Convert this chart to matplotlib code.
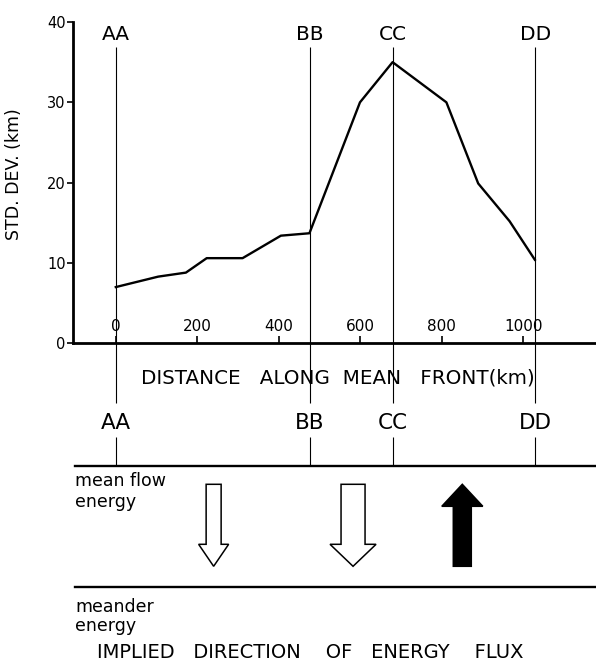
import matplotlib
matplotlib.use("Agg")
import matplotlib.pyplot as plt
from matplotlib.patches import FancyArrow

# ---------------------------------------------------------------------------
# Data
# ---------------------------------------------------------------------------
DIST_KM    = [0, 104, 172, 223, 311, 405, 475, 599, 679, 811, 889, 966, 1028]
STD_DEV_KM = [7.0, 8.3, 8.8, 10.6, 10.6, 13.4, 13.7, 30.0, 35.0, 30.0, 19.9, 15.2, 10.4]

SECTION_NAMES = ["AA", "BB", "CC", "DD"]
SECTION_KM    = [0, 476, 680, 1029]

X_TICKS = [0, 200, 400, 600, 800, 1000]
Y_TICKS = [0, 10, 20, 30, 40]

# energy flux arrows: position along front, +1 = mean flow -> meander
FLUX_KM     = [240, 582, 850]
FLUX_DIR    = [1, 1, -1]
FLUX_FILLED = [False, False, True]

# ---------------------------------------------------------------------------
# Layout (pixels of a 596x661 canvas)
# ---------------------------------------------------------------------------
W, H = 596, 661
AX_L, AX_R, AX_TOP, AX_BOT = 73, 596, 22, 343.3
KM_PX = 0.4076                      # pixels per km
X0_PX = 115.7                       # pixel column of km 0
XLIM = (-105, 1178)

ARROW_SHAFT_PX = [15, 24, 18]
ARROW_HEAD_PX  = [30, 46, 41]
ARROW_TOP, ARROW_BOT, HEAD_LEN = 141, 223, 22


def px_to_km(px):
    return (px - X0_PX) / KM_PX


plt.rcParams["font.family"] = ["DejaVu Sans"]

fig = plt.figure(figsize=(W / 100, H / 100), dpi=100)

# ---------------------------------------------------------------------------
# Upper panel: std. dev. along the front
# ---------------------------------------------------------------------------
ax = fig.add_axes([AX_L / W, 1 - AX_BOT / H, (AX_R - AX_L) / W, (AX_BOT - AX_TOP) / H])
ax.set_xlim(*XLIM)
ax.set_ylim(0, 40)

ax.plot(DIST_KM, STD_DEV_KM, color="black", lw=1.7)
ax.vlines(SECTION_KM, 0, 36.9, color="black", lw=0.8)
for name, km in zip(SECTION_NAMES, SECTION_KM):
    ax.text(km, 37.7, name, ha="center", va="baseline", fontsize=14.5)

for side in ("top", "right"):
    ax.spines[side].set_visible(False)
for side in ("left", "bottom"):
    ax.spines[side].set_linewidth(2.0)

ax.set_xticks(X_TICKS)
ax.set_xticklabels([str(t) for t in X_TICKS])
ax.tick_params(axis="x", direction="in", length=5, width=1.2, pad=-17.3, labelsize=11)
ax.set_yticks(Y_TICKS)
ax.tick_params(axis="y", direction="out", length=4.3, width=1.2, pad=1, labelsize=10.5)
ax.set_ylabel("STD. DEV. (km)", fontsize=12.5)
ax.yaxis.set_label_coords((23.5 - AX_L) / (AX_R - AX_L), (AX_BOT - 174) / (AX_BOT - AX_TOP))

# ---------------------------------------------------------------------------
# Lower panel: schematic of energy flux (y = pixels below the x axis)
# ---------------------------------------------------------------------------
ax2 = fig.add_axes([AX_L / W, 0, (AX_R - AX_L) / W, (H - AX_BOT) / H])
ax2.set_xlim(*XLIM)
ax2.set_ylim(H - AX_BOT, 0)
ax2.axis("off")

ax2.vlines(SECTION_KM, 0, 60, color="black", lw=0.8)
ax2.vlines(SECTION_KM, 94, 123, color="black", lw=0.8)
for name, km in zip(SECTION_NAMES, SECTION_KM):
    ax2.text(km, 86, name, ha="center", va="baseline", fontsize=15.5)

ax2.text(px_to_km(141), 40, "DISTANCE   ALONG  MEAN   FRONT(km)",
         ha="left", va="baseline", fontsize=14.3)

ax2.axhline(123, xmin=0.004, color="black", lw=1.7)
ax2.axhline(244, xmin=0.004, color="black", lw=1.7)
ax2.text(px_to_km(75), 128.4, "mean flow\nenergy", ha="left", va="top",
         fontsize=12.5, linespacing=1.25)
ax2.text(px_to_km(75), 254.5, "meander\nenergy", ha="left", va="top",
         fontsize=12.5, linespacing=1.1)

for km, d, filled, shaft, head in zip(FLUX_KM, FLUX_DIR, FLUX_FILLED,
                                      ARROW_SHAFT_PX, ARROW_HEAD_PX):
    y0, y1 = (ARROW_TOP, ARROW_BOT) if d > 0 else (ARROW_BOT, ARROW_TOP)
    arr = FancyArrow(km, y0, 0, y1 - y0, width=shaft / KM_PX,
                     head_width=head / KM_PX, head_length=HEAD_LEN,
                     length_includes_head=True,
                     facecolor="black" if filled else "white",
                     edgecolor="black", lw=1.1)
    ax2.add_patch(arr)

ax2.text(px_to_km(97), 314.7, "IMPLIED   DIRECTION    OF   ENERGY    FLUX",
         ha="left", va="baseline", fontsize=14)

fig.savefig("out.png", dpi=100)
